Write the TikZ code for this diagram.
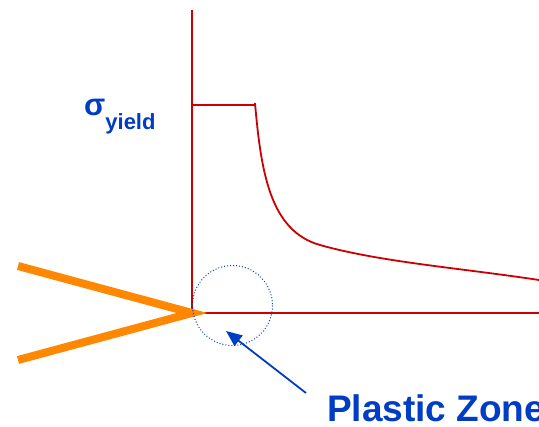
\documentclass[tikz,border=0pt]{standalone}
\usepackage{fontspec}
\setmainfont{Liberation Sans}
\usetikzlibrary{arrows.meta,positioning}
\definecolor{axisred}{RGB}{204,0,0}
\definecolor{crackorange}{RGB}{255,136,0}
\definecolor{labelblue}{RGB}{0,61,196}
\tikzset{
  axisline/.style={axisred,line width=1.8pt},
  crackline/.style={crackorange,line width=8pt,line join=miter},
  zonecircle/.style={labelblue,line width=1pt,dotted},
  bluetext/.style={labelblue,font=\bfseries,inner sep=0pt}
}
\begin{document}
\begin{tikzpicture}[x=1pt,y=-1pt]
\useasboundingbox (0,0) rectangle (539,427);
% axes
\coordinate (tip) at (192,313);
\coordinate (top) at (192,10);
\coordinate (right) at (539,313);
\draw[axisline] (top)--(tip)--(right);
% stress curve
\draw[axisline] (192,105)--(256,105);
\draw[axisline] (255,103) .. controls (261,172) and (270,231) .. (320,245)
  .. controls (380,262) and (460,268) .. (539,280);
% crack
\draw[crackline] (18,266)--(tip)--(18,360);
% plastic zone
\draw[zonecircle] (232.5,305.5) circle (40);
\coordinate (zone) at (226,331);
\node[bluetext,anchor=base west,font=\bfseries\fontsize{37}{40}\selectfont] (pz) at (327,422) {Plastic Zone};
\coordinate (start) at (306,393);
\draw[labelblue,line width=1.8pt,-{Triangle[length=16pt,width=13pt]}] (start)--(zone);
% sigma label
\node[bluetext,anchor=base west] (sy) at (84,116) {\fontsize{31}{32}\selectfont σ\fontsize{22}{24}\selectfont\raisebox{-14pt}{yield}};
\end{tikzpicture}
\end{document}
